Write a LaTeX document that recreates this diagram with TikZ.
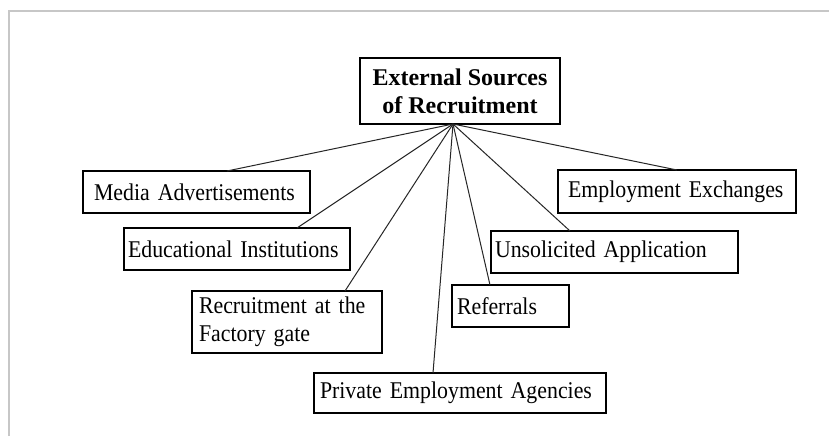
\documentclass[tikz,border=0pt]{standalone}
\usepackage{fontspec}
\setmainfont{Liberation Serif}
\newfontfamily\boxfont[FakeStretch=0.91]{Liberation Serif}
\newcommand\tightbox{\boxfont\fontsize{24}{28}\selectfont\fontdimen2\font=1.5pt\fontdimen3\font=0pt\fontdimen4\font=0pt}
\begin{document}
\begin{tikzpicture}[x=1pt,y=-1pt,
  src/.style={draw=black, line width=1.5pt, outer sep=0pt, inner xsep=0pt, inner ysep=0pt,
    anchor=north west, align=left, font=\tightbox},
  headbox/.style={draw=black, line width=2.2pt, outer sep=0pt, inner sep=0pt,
    anchor=north west, align=center, font=\fontsize{24}{28}\selectfont\bfseries},
  link/.style={draw=black!85, line width=1pt}]
\useasboundingbox (0,0) rectangle (829,436);
\fill[white] (0,0) rectangle (829,436);
\draw[black!22, line width=1.2pt] (9,436) -- (9,11) -- (829,11);

\node[headbox, minimum width=200, minimum height=66] (top) at (360,58)
  {External Sources\\of Recruitment};
\coordinate (hub) at ([xshift=-7pt]top.south);

\node[src, text width=227, minimum height=42] (ma) at (83,171)
  {\hspace*{11pt}Media Advertisements};
\node[src, text width=226, minimum height=42] (ei) at (124,228)
  {\hspace*{4pt}Educational Institutions};
\node[src, text width=190, minimum height=62] (rf) at (192,291)
  {\hspace*{7pt}Recruitment at the\\\hspace*{7pt}Factory gate};
\node[src, text width=292, minimum height=40] (pea) at (314,373)
  {\hspace*{6pt}Private Employment Agencies};
\node[src, text width=117, minimum height=42] (ref) at (452,285)
  {\hspace*{5pt}Referrals};
\node[src, text width=247, minimum height=42] (ua) at (491,231)
  {\hspace*{4pt}Unsolicited Application};
\node[src, text width=238, minimum height=43] (ee) at (558,170)
  {\hspace*{10pt}Employment Exchanges};

\draw[link] (hub) -- ([xshift=30.5pt]ma.north);
\draw[link] (hub) -- ([xshift=60pt]ei.north);
\draw[link] (hub) -- ([xshift=58pt]rf.north);
\draw[link] (hub) -- ([xshift=-27pt]pea.north);
\draw[link] (hub) -- ([xshift=-20.5pt]ref.north);
\draw[link] (hub) -- ([xshift=-44.5pt]ua.north);
\draw[link] (hub) -- (ee.north);
\end{tikzpicture}
\end{document}
